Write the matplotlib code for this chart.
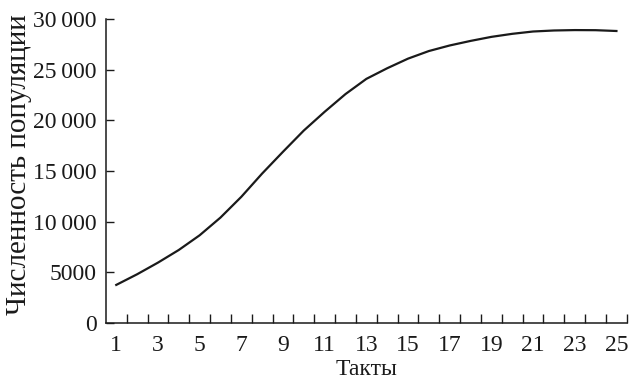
import matplotlib
matplotlib.use("Agg")
import matplotlib.pyplot as plt

# данные
takty = list(range(1, 26))
chislennost = [3750, 4800, 5950, 7200, 8650, 10400, 12450, 14750, 16900, 19000,
               20850, 22600, 24100, 25150, 26100, 26850, 27400, 27850, 28250, 28550,
               28780, 28880, 28920, 28910, 28830]

y_ticks = [0, 5000, 10000, 15000, 20000, 25000, 30000]
y_labels = ["0", "5000", "10\u2009000", "15\u2009000", "20\u2009000", "25\u2009000", "30\u2009000"]
x_labels = [1, 3, 5, 7, 9, 11, 13, 15, 17, 19, 21, 23, 25]

plt.rcParams['font.family'] = ['Liberation Serif', 'DejaVu Serif']

fig = plt.figure(figsize=(6.3, 3.83), dpi=100)
ax = fig.add_axes([0.168, 0.157, 0.827, 0.793])

ax.plot(takty, chislennost, color='#1a1a1a', lw=1.6, solid_joinstyle='round')

ax.set_xlim(0.5, 25.5)
ax.set_ylim(0, 30000)

ax.spines['top'].set_visible(False)
ax.spines['right'].set_visible(False)
for s in ('left', 'bottom'):
    ax.spines[s].set_linewidth(1.1)
    ax.spines[s].set_color('#1a1a1a')

# подписи по нечётным тактам, риски между тактами
ax.set_xticks(x_labels)
ax.set_xticklabels([str(v) for v in x_labels])
ax.set_xticks([t + 0.5 for t in takty], minor=True)
ax.tick_params(axis='x', which='major', length=0, pad=9, labelsize=17, labelcolor='#1a1a1a')
ax.tick_params(axis='x', which='minor', direction='in', length=6.5, width=1.0, color='#1a1a1a')

ax.set_yticks(y_ticks)
ax.set_yticklabels(y_labels)
ax.tick_params(axis='y', direction='in', length=6, width=1.0, pad=6.5, labelsize=17,
               color='#1a1a1a', labelcolor='#1a1a1a')

ax.set_xlabel("Такты", fontsize=17, color='#1a1a1a', va='center')
ax.xaxis.set_label_coords(0.501, -0.155)
ax.set_ylabel("Численность популяции", fontsize=21, color='#1a1a1a', va='center')
ax.yaxis.set_label_coords(-0.167, 0.52)

fig.savefig("out.png", dpi=100)
